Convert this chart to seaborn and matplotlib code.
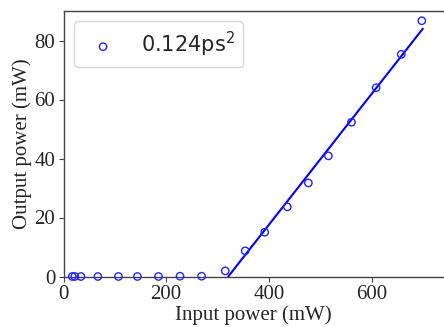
import matplotlib
matplotlib.use("Agg")
import matplotlib.pyplot as plt
import seaborn as sns
import pandas as pd

# measured points
input_power = [17, 22, 34, 67, 107, 144, 185, 227, 269, 315,
               354, 392, 436, 477, 516, 561, 609, 658, 698]
output_power = [0.0, 0.0, 0.0, 0.0, 0.0, 0.0, 0.0, 0.1, 0.1, 1.9,
                8.7, 15.0, 23.6, 31.7, 40.9, 52.3, 64.0, 75.3, 86.7]
# linear fit
fit_input = [321, 700]
fit_output = [0.0, 84.0]
legend_label = "0.124ps$^2$"

sns.set_style("ticks")
plt.rcParams["font.family"] = ["Liberation Serif", "DejaVu Serif"]
plt.rcParams["mathtext.fontset"] = "dejavusans"

fig = plt.figure(figsize=(4.44, 3.27), dpi=100)
ax_w = 380.5
ax = fig.add_axes([63.5 / 444, 50.5 / 327, ax_w / 444, 265.5 / 327])

df = pd.DataFrame({"x": input_power, "y": output_power})
fit = pd.DataFrame({"x": fit_input, "y": fit_output})

sns.lineplot(data=fit, x="x", y="y", ax=ax, color="#0000ff", lw=1.5, zorder=2)
sns.scatterplot(data=df, x="x", y="y", ax=ax, marker="o", s=28,
                facecolor="none", edgecolor="#2222ff", linewidth=1.0,
                label=legend_label, clip_on=False, zorder=3)

ax.set_xlim(0, 750 * ax_w / 385)
ax.set_ylim(0, 90)
ax.set_xticks([0, 200, 400, 600])
ax.set_yticks([0, 20, 40, 60, 80])
ax.tick_params(labelsize=15, length=3.5, width=0.8, color="#444444", pad=2.5)
for s in ax.spines.values():
    s.set_color("#444444")
    s.set_linewidth(1.0)
ax.spines["right"].set_visible(False)
ax.set_xlabel("Input power (mW)", fontsize=15, labelpad=1)
ax.set_ylabel("Output power (mW)", fontsize=15, labelpad=2)

leg = ax.legend(loc="upper left", prop={"family": "DejaVu Sans", "size": 15},
                frameon=True)
for h in leg.legend_handles:
    h.set_facecolor("none")
    h.set_edgecolor("#2222ff")

fig.savefig("out.png", dpi=100)
